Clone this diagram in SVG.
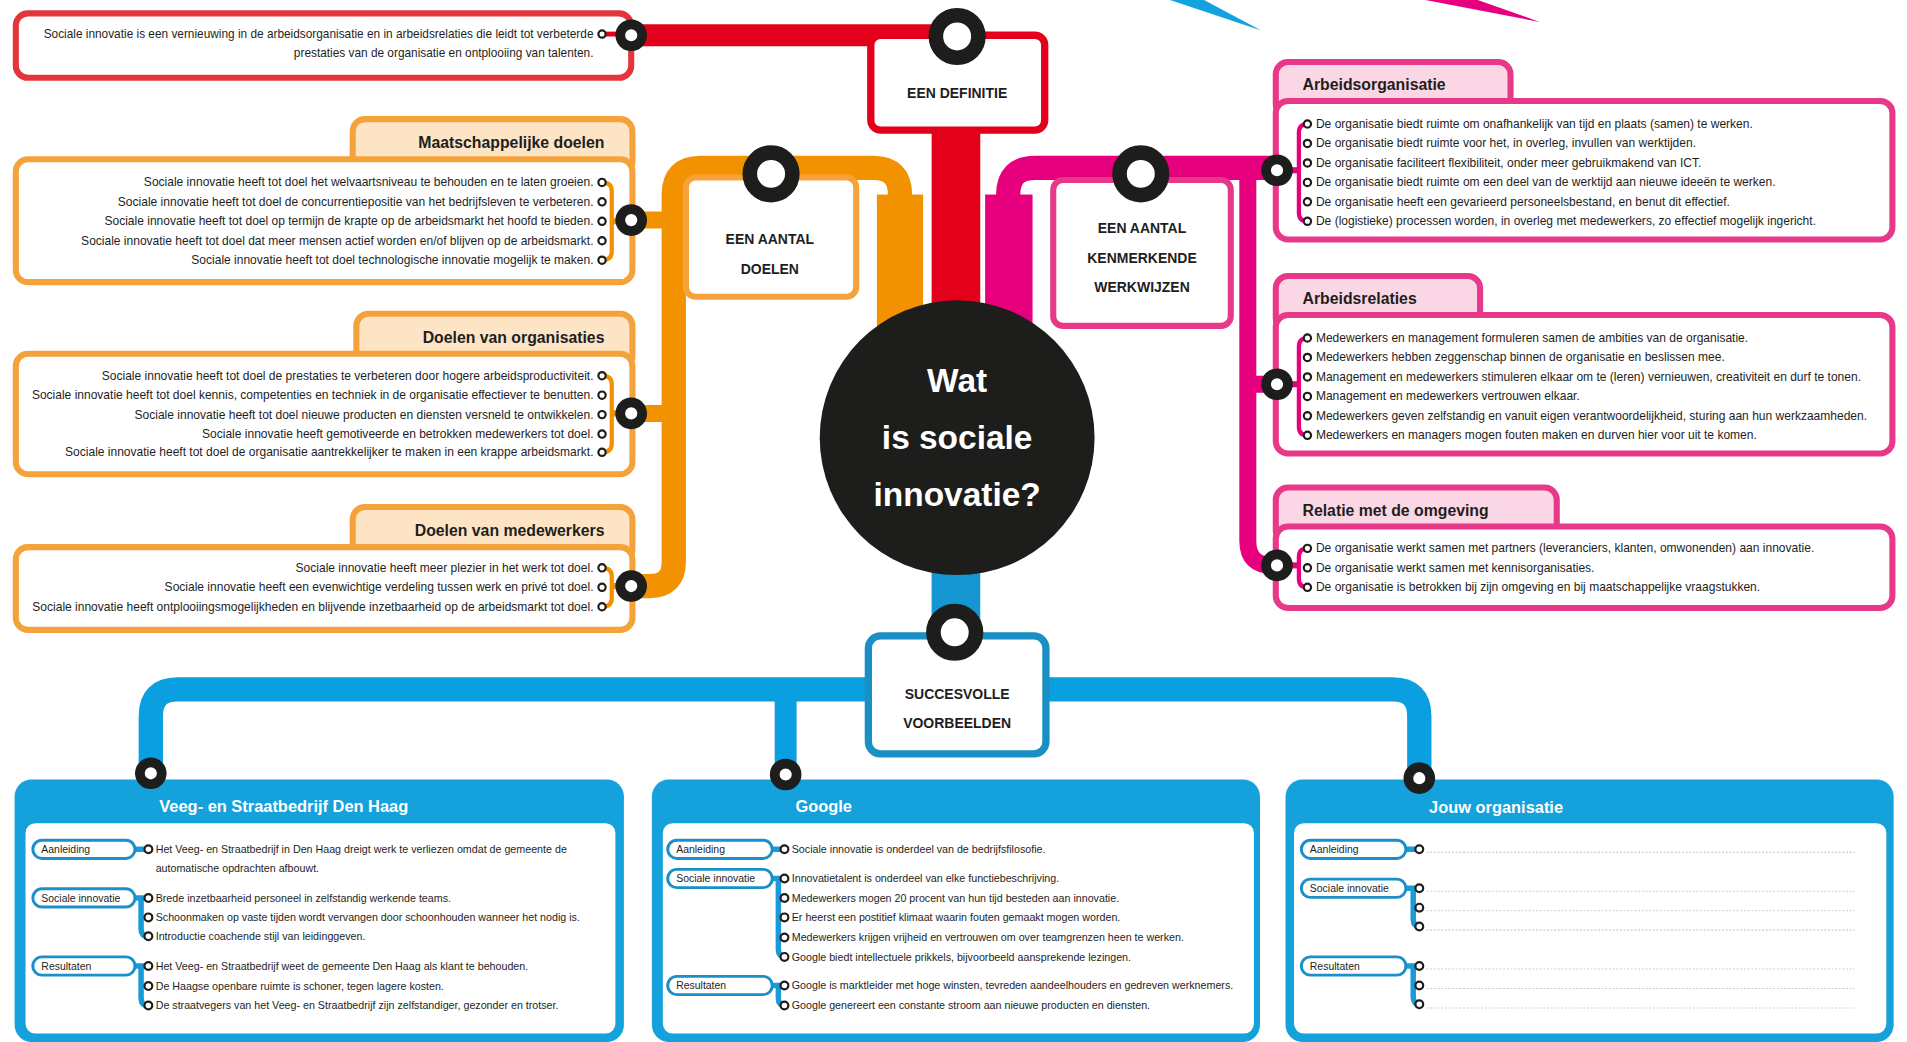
<svg xmlns="http://www.w3.org/2000/svg" width="1907" height="1042" viewBox="0 0 1907 1042">
<style>
text{font-family:"Liberation Sans",Arial,sans-serif;fill:#1e1e1e}
.b{font-size:9.9px}
.d{font-size:9.75px}
.r{text-anchor:end}
.h{font-weight:bold;font-size:13px}
.n{font-weight:bold;font-size:11.5px;text-anchor:middle}
.bt{font-size:8.8px}
.bh{font-weight:bold;font-size:13.5px;fill:#fff}
.pl{font-size:8.6px}
.c{font-weight:bold;font-size:27.5px;fill:#fff;text-anchor:middle}
.rL{fill:#fff;stroke:#1d1d1b;stroke-width:12}
.rM{fill:#fff;stroke:#1d1d1b;stroke-width:8}
.rS{fill:#fff;stroke:#1d1d1b;stroke-width:1.8}
.ob{fill:#fff;stroke:#f6a23a;stroke-width:5}
.ot{fill:#fde4c4;stroke:#f6a23a;stroke-width:5}
.pb{fill:#fff;stroke:#e8388a;stroke-width:5}
.pt{fill:#fbd6e4;stroke:#e8388a;stroke-width:5}
.bo{fill:#14a1dc}
.bi{fill:#fff}
.pill{fill:#fff;stroke:#1b8fc8;stroke-width:2.4}
.dl{stroke:#c9c9c9;stroke-width:0.9;stroke-dasharray:1.5 1.5}
.lo{fill:none;stroke:#f39200}
.lp{fill:none;stroke:#e6007e}
.lb{fill:none;stroke:#0a9fe0}
.lr{fill:none;stroke:#e2001a}
.br{fill:none;stroke:#1b9ad8;stroke-width:4.5}
</style>
<g transform="scale(1.2162 1.2159)">
<polygon points="962,0 990,0 1037,25" fill="#12a2dd"/>
<polygon points="1172,0 1215,0 1266,18" fill="#e6007e"/>

<g id="connectors">
<path class="lr" d="M519 29H787" stroke-width="18"/>
<rect x="766" y="100" width="40" height="180" fill="#e2001a"/>
<path class="lo" d="M519 482H534Q554 482 554 462V160Q554 138 576 138H718Q740 138 740 160V285" stroke-width="20"/>
<rect x="721" y="160" width="38" height="125" fill="#f39200"/>
<path class="lo" d="M519 181H554M519 340H554" stroke-width="14"/>
<path class="lp" d="M829 285V160Q829 138 851 138H1050" stroke-width="20"/>
<rect x="810" y="160" width="39" height="125" fill="#e6007e"/>
<path class="lp" d="M1026 138V445Q1026 465 1046 465H1050M1026 316H1050" stroke-width="14"/>
<rect x="766" y="440" width="40" height="85" fill="#1496d2"/>
<path class="lb" d="M124 640V589Q124 567 146 567H1145Q1167 567 1167 589V642" stroke-width="20"/>
<path class="lb" d="M646 567V640" stroke-width="18"/>
</g>

<g id="definitie">
<rect x="13" y="11" width="506" height="53" rx="10" fill="#fff" stroke="#e2363c" stroke-width="5"/>
<text class="d r" x="488" y="31">Sociale innovatie is een vernieuwing in de arbeidsorganisatie en in arbeidsrelaties die leidt tot verbeterde</text>
<text class="d r" x="488" y="47">prestaties van de organisatie en ontplooiing van talenten.</text>
<path class="lr" d="M495 28H519" stroke-width="4"/>
<circle class="rS" cx="495" cy="28" r="3"/>
<circle class="rM" cx="519" cy="29" r="9"/>
</g>

<g id="een-definitie">
<rect x="716" y="29" width="143" height="78" rx="8" fill="#fff" stroke="#e2001a" stroke-width="6"/>
<text class="n" x="787" y="81">EEN DEFINITIE</text>
<circle class="rL" cx="787" cy="30" r="17.5"/>
</g>

<g id="een-aantal-doelen">
<rect class="ob" x="564" y="146" width="140" height="98" rx="8"/>
<text class="n" x="633" y="201">EEN AANTAL</text>
<text class="n" x="633" y="225">DOELEN</text>
<circle class="rL" cx="634" cy="143" r="17.5"/>
</g>

<g id="maatschappelijke-doelen">
<rect class="ot" x="290" y="98" width="230" height="45" rx="10"/>
<rect class="ob" x="13" y="131" width="507" height="101" rx="10"/>
<text class="h r" x="497" y="122">Maatschappelijke doelen</text>
<text class="b r" x="488" y="153.3">Sociale innovatie heeft tot doel het welvaartsniveau te behouden en te laten groeien.</text>
<text class="b r" x="488" y="169.3">Sociale innovatie heeft tot doel de concurrentiepositie van het bedrijfsleven te verbeteren.</text>
<text class="b r" x="488" y="185.3">Sociale innovatie heeft tot doel op termijn de krapte op de arbeidsmarkt het hoofd te bieden.</text>
<text class="b r" x="488" y="201.3">Sociale innovatie heeft tot doel dat meer mensen actief worden en/of blijven op de arbeidsmarkt.</text>
<text class="b r" x="488" y="217.3">Sociale innovatie heeft tot doel technologische innovatie mogelijk te maken.</text>
<path class="lo" d="M495 150Q503 150 503 157V207Q503 214 495 214" stroke-width="3.5"/>
<path class="lo" d="M503 182H519" stroke-width="5"/>
<circle class="rS" cx="495" cy="150" r="3"/><circle class="rS" cx="495" cy="166" r="3"/><circle class="rS" cx="495" cy="182" r="3"/><circle class="rS" cx="495" cy="198" r="3"/><circle class="rS" cx="495" cy="214" r="3"/>
<circle class="rM" cx="519" cy="181" r="9"/>
</g>

<g id="doelen-organisaties">
<rect class="ot" x="293" y="258" width="227" height="45" rx="10"/>
<rect class="ob" x="13" y="291" width="507" height="99" rx="10"/>
<text class="h r" x="497" y="282">Doelen van organisaties</text>
<text class="b r" x="488" y="312.3">Sociale innovatie heeft tot doel de prestaties te verbeteren door hogere arbeidsproductiviteit.</text>
<text class="b r" x="488" y="328.3">Sociale innovatie heeft tot doel kennis, competenties en techniek in de organisatie effectiever te benutten.</text>
<text class="b r" x="488" y="344.3">Sociale innovatie heeft tot doel nieuwe producten en diensten versneld te ontwikkelen.</text>
<text class="b r" x="488" y="360.3">Sociale innovatie heeft gemotiveerde en betrokken medewerkers tot doel.</text>
<text class="b r" x="488" y="375.3">Sociale innovatie heeft tot doel de organisatie aantrekkelijker te maken in een krappe arbeidsmarkt.</text>
<path class="lo" d="M495 309Q503 309 503 316V365Q503 372 495 372" stroke-width="3.5"/>
<path class="lo" d="M503 340H519" stroke-width="5"/>
<circle class="rS" cx="495" cy="309" r="3"/><circle class="rS" cx="495" cy="325" r="3"/><circle class="rS" cx="495" cy="341" r="3"/><circle class="rS" cx="495" cy="357" r="3"/><circle class="rS" cx="495" cy="372" r="3"/>
<circle class="rM" cx="519" cy="340" r="9"/>
</g>

<g id="doelen-medewerkers">
<rect class="ot" x="290" y="417" width="230" height="45" rx="10"/>
<rect class="ob" x="13" y="450" width="507" height="68" rx="10"/>
<text class="h r" x="497" y="441">Doelen van medewerkers</text>
<text class="b r" x="488" y="470.3">Sociale innovatie heeft meer plezier in het werk tot doel.</text>
<text class="b r" x="488" y="486.3">Sociale innovatie heeft een evenwichtige verdeling tussen werk en privé tot doel.</text>
<text class="b r" x="488" y="502.3">Sociale innovatie heeft ontplooiingsmogelijkheden en blijvende inzetbaarheid op de arbeidsmarkt tot doel.</text>
<path class="lo" d="M495 467Q503 467 503 474V492Q503 499 495 499" stroke-width="3.5"/>
<path class="lo" d="M503 482H519" stroke-width="5"/>
<circle class="rS" cx="495" cy="467" r="3"/><circle class="rS" cx="495" cy="483" r="3"/><circle class="rS" cx="495" cy="499" r="3"/>
<circle class="rM" cx="519" cy="482" r="9"/>
</g>

<g id="kenmerkende-werkwijzen">
<rect class="pb" x="866" y="148" width="146" height="120" rx="8"/>
<text class="n" x="939" y="192">EEN AANTAL</text>
<text class="n" x="939" y="216">KENMERKENDE</text>
<text class="n" x="939" y="240">WERKWIJZEN</text>
<circle class="rL" cx="938" cy="143" r="17.5"/>
</g>

<g id="arbeidsorganisatie">
<rect class="pt" x="1049" y="51" width="193" height="45" rx="10"/>
<rect class="pb" x="1049" y="83" width="507" height="114" rx="10"/>
<text class="h" x="1071" y="74">Arbeidsorganisatie</text>
<text class="b" x="1082" y="105.3">De organisatie biedt ruimte om onafhankelijk van tijd en plaats (samen) te werken.</text>
<text class="b" x="1082" y="121.3">De organisatie biedt ruimte voor het, in overleg, invullen van werktijden.</text>
<text class="b" x="1082" y="137.3">De organisatie faciliteert flexibiliteit, onder meer gebruikmakend van ICT.</text>
<text class="b" x="1082" y="153.3">De organisatie biedt ruimte om een deel van de werktijd aan nieuwe ideeën te werken.</text>
<text class="b" x="1082" y="169.3">De organisatie heeft een gevarieerd personeelsbestand, en benut dit effectief.</text>
<text class="b" x="1082" y="185.3">De (logistieke) processen worden, in overleg met medewerkers, zo effectief mogelijk ingericht.</text>
<path class="lp" d="M1075 102Q1068 102 1068 109V175Q1068 182 1075 182" stroke-width="3.5"/>
<path class="lp" d="M1050 140H1068" stroke-width="5"/>
<circle class="rS" cx="1075" cy="102" r="3"/><circle class="rS" cx="1075" cy="118" r="3"/><circle class="rS" cx="1075" cy="134" r="3"/><circle class="rS" cx="1075" cy="150" r="3"/><circle class="rS" cx="1075" cy="166" r="3"/><circle class="rS" cx="1075" cy="182" r="3"/>
<circle class="rM" cx="1050" cy="140" r="9"/>
</g>

<g id="arbeidsrelaties">
<rect class="pt" x="1049" y="227" width="168" height="45" rx="10"/>
<rect class="pb" x="1049" y="259" width="507" height="114" rx="10"/>
<text class="h" x="1071" y="250">Arbeidsrelaties</text>
<text class="b" x="1082" y="281.3">Medewerkers en management formuleren samen de ambities van de organisatie.</text>
<text class="b" x="1082" y="297.3">Medewerkers hebben zeggenschap binnen de organisatie en beslissen mee.</text>
<text class="b" x="1082" y="313.3">Management en medewerkers stimuleren elkaar om te (leren) vernieuwen, creativiteit en durf te tonen.</text>
<text class="b" x="1082" y="329.3">Management en medewerkers vertrouwen elkaar.</text>
<text class="b" x="1082" y="345.3">Medewerkers geven zelfstandig en vanuit eigen verantwoordelijkheid, sturing aan hun werkzaamheden.</text>
<text class="b" x="1082" y="361.3">Medewerkers en managers mogen fouten maken en durven hier voor uit te komen.</text>
<path class="lp" d="M1075 278Q1068 278 1068 285V351Q1068 358 1075 358" stroke-width="3.5"/>
<path class="lp" d="M1050 316H1068" stroke-width="5"/>
<circle class="rS" cx="1075" cy="278" r="3"/><circle class="rS" cx="1075" cy="294" r="3"/><circle class="rS" cx="1075" cy="310" r="3"/><circle class="rS" cx="1075" cy="326" r="3"/><circle class="rS" cx="1075" cy="342" r="3"/><circle class="rS" cx="1075" cy="358" r="3"/>
<circle class="rM" cx="1050" cy="316" r="9"/>
</g>

<g id="relatie-omgeving">
<rect class="pt" x="1049" y="401" width="231" height="45" rx="10"/>
<rect class="pb" x="1049" y="433" width="507" height="67" rx="10"/>
<text class="h" x="1071" y="424">Relatie met de omgeving</text>
<text class="b" x="1082" y="454.3">De organisatie werkt samen met partners (leveranciers, klanten, omwonenden) aan innovatie.</text>
<text class="b" x="1082" y="470.3">De organisatie werkt samen met kennisorganisaties.</text>
<text class="b" x="1082" y="486.3">De organisatie is betrokken bij zijn omgeving en bij maatschappelijke vraagstukken.</text>
<path class="lp" d="M1075 451Q1068 451 1068 458V476Q1068 483 1075 483" stroke-width="3.5"/>
<path class="lp" d="M1050 465H1068" stroke-width="5"/>
<circle class="rS" cx="1075" cy="451" r="3"/><circle class="rS" cx="1075" cy="467" r="3"/><circle class="rS" cx="1075" cy="483" r="3"/>
<circle class="rM" cx="1050" cy="465" r="9"/>
</g>

<g id="centrum">
<circle cx="787" cy="360" r="113" fill="#1d1d1b"/>
<text class="c" x="787" y="322">Wat</text>
<text class="c" x="787" y="369">is sociale</text>
<text class="c" x="787" y="416">innovatie?</text>
</g>

<g id="succesvolle-voorbeelden">
<rect x="714" y="523" width="146" height="97" rx="10" fill="#fff" stroke="#1a8fc4" stroke-width="6"/>
<text class="n" x="787" y="575">SUCCESVOLLE</text>
<text class="n" x="787" y="599">VOORBEELDEN</text>
<circle class="rL" cx="785" cy="520" r="17.5"/>
</g>

<g id="veeg-straatbedrijf">
<rect class="bo" x="12" y="641" width="501" height="216" rx="14"/>
<rect class="bi" x="21" y="677" width="485" height="173" rx="8"/>
<text class="bh" x="131" y="668">Veeg- en Straatbedrijf Den Haag</text>
<path class="br" d="M111 698.5H122M111 738.5H122M116 738.5V764Q116 770 122 770M111 794.5H122M116 794.5V821Q116 827 122 827"/>
<rect class="pill" x="27" y="691" width="84" height="15" rx="7.5"/><text class="pl" x="34" y="701.5">Aanleiding</text>
<rect class="pill" x="27" y="731" width="84" height="15" rx="7.5"/><text class="pl" x="34" y="741.5">Sociale innovatie</text>
<rect class="pill" x="27" y="787" width="84" height="15" rx="7.5"/><text class="pl" x="34" y="797.5">Resultaten</text>
<circle class="rS" cx="122" cy="698.5" r="3.2"/><circle class="rS" cx="122" cy="738.5" r="3.2"/><circle class="rS" cx="122" cy="754.5" r="3.2"/><circle class="rS" cx="122" cy="770" r="3.2"/><circle class="rS" cx="122" cy="794.5" r="3.2"/><circle class="rS" cx="122" cy="811" r="3.2"/><circle class="rS" cx="122" cy="827" r="3.2"/>
<text class="bt" x="128" y="701.5">Het Veeg- en Straatbedrijf in Den Haag dreigt werk te verliezen omdat de gemeente de</text>
<text class="bt" x="128" y="717.5">automatische opdrachten afbouwt.</text>
<text class="bt" x="128" y="741.5">Brede inzetbaarheid personeel in zelfstandig werkende teams.</text>
<text class="bt" x="128" y="757.5">Schoonmaken op vaste tijden wordt vervangen door schoonhouden wanneer het nodig is.</text>
<text class="bt" x="128" y="773">Introductie coachende stijl van leidinggeven.</text>
<text class="bt" x="128" y="797.5">Het Veeg- en Straatbedrijf weet de gemeente Den Haag als klant te behouden.</text>
<text class="bt" x="128" y="814">De Haagse openbare ruimte is schoner, tegen lagere kosten.</text>
<text class="bt" x="128" y="830">De straatvegers van het Veeg- en Straatbedrijf zijn zelfstandiger, gezonder en trotser.</text>
<circle class="rM" cx="124" cy="636" r="9"/>
</g>

<g id="google">
<rect class="bo" x="536" y="641" width="500" height="216" rx="14"/>
<rect class="bi" x="545" y="677" width="486" height="173" rx="8"/>
<text class="bh" x="654" y="668">Google</text>
<path class="br" d="M635 698.5H645M635 722.5H645M640 722.5V781Q640 787 646 787M635 810.5H645M640 810.5V821Q640 827 646 827"/>
<rect class="pill" x="549" y="691" width="86" height="15" rx="7.5"/><text class="pl" x="556" y="701.5">Aanleiding</text>
<rect class="pill" x="549" y="715" width="86" height="15" rx="7.5"/><text class="pl" x="556" y="725.5">Sociale innovatie</text>
<rect class="pill" x="549" y="803" width="86" height="15" rx="7.5"/><text class="pl" x="556" y="813.5">Resultaten</text>
<circle class="rS" cx="645" cy="698.5" r="3.2"/><circle class="rS" cx="645" cy="722.5" r="3.2"/><circle class="rS" cx="645" cy="738.5" r="3.2"/><circle class="rS" cx="645" cy="754.5" r="3.2"/><circle class="rS" cx="645" cy="771" r="3.2"/><circle class="rS" cx="645" cy="787" r="3.2"/><circle class="rS" cx="645" cy="810.5" r="3.2"/><circle class="rS" cx="645" cy="827" r="3.2"/>
<text class="bt" x="651" y="701.5">Sociale innovatie is onderdeel van de bedrijfsfilosofie.</text>
<text class="bt" x="651" y="725.5">Innovatietalent is onderdeel van elke functiebeschrijving.</text>
<text class="bt" x="651" y="741.5">Medewerkers mogen 20 procent van hun tijd besteden aan innovatie.</text>
<text class="bt" x="651" y="757.5">Er heerst een postitief klimaat waarin fouten gemaakt mogen worden.</text>
<text class="bt" x="651" y="774">Medewerkers krijgen vrijheid en vertrouwen om over teamgrenzen heen te werken.</text>
<text class="bt" x="651" y="790">Google biedt intellectuele prikkels, bijvoorbeeld aansprekende lezingen.</text>
<text class="bt" x="651" y="813.5">Google is marktleider met hoge winsten, tevreden aandeelhouders en gedreven werknemers.</text>
<text class="bt" x="651" y="830">Google genereert een constante stroom aan nieuwe producten en diensten.</text>
<circle class="rM" cx="646" cy="637" r="9"/>
</g>

<g id="jouw-organisatie">
<rect class="bo" x="1057" y="641" width="500" height="216" rx="14"/>
<rect class="bi" x="1064" y="677" width="487" height="173" rx="8"/>
<text class="bh" x="1175" y="669">Jouw organisatie</text>
<path class="dl" d="M1173 701H1525M1173 733H1525M1173 749H1525M1173 765H1525M1173 797H1525M1173 813H1525M1173 829H1525"/>
<path class="br" d="M1156 698.5H1167M1156 730.5H1167M1162 730.5V756Q1162 762 1168 762M1156 794.5H1167M1162 794.5V820Q1162 826 1168 826"/>
<rect class="pill" x="1070" y="691" width="86" height="15" rx="7.5"/><text class="pl" x="1077" y="701.5">Aanleiding</text>
<rect class="pill" x="1070" y="723" width="86" height="15" rx="7.5"/><text class="pl" x="1077" y="733.5">Sociale innovatie</text>
<rect class="pill" x="1070" y="787" width="86" height="15" rx="7.5"/><text class="pl" x="1077" y="797.5">Resultaten</text>
<circle class="rS" cx="1167" cy="698.5" r="3.2"/><circle class="rS" cx="1167" cy="730.5" r="3.2"/><circle class="rS" cx="1167" cy="746.5" r="3.2"/><circle class="rS" cx="1167" cy="762" r="3.2"/><circle class="rS" cx="1167" cy="794.5" r="3.2"/><circle class="rS" cx="1167" cy="810.5" r="3.2"/><circle class="rS" cx="1167" cy="826" r="3.2"/>
<circle class="rM" cx="1167" cy="640" r="9"/>
</g>
</g>
</svg>
